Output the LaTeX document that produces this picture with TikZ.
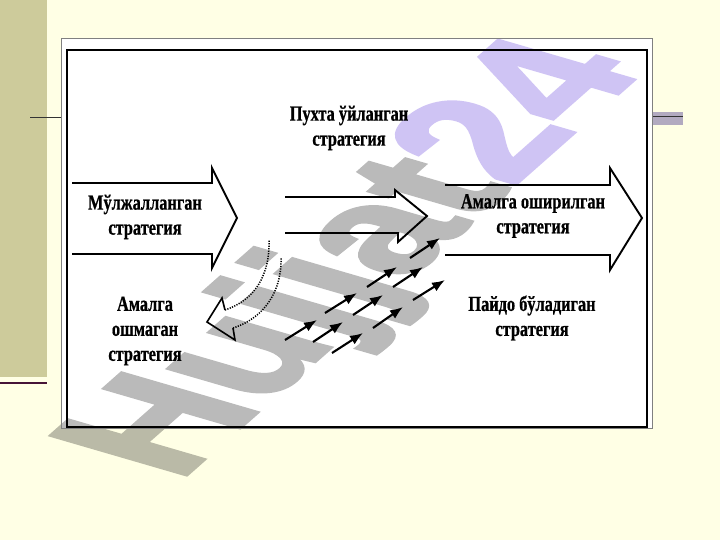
\documentclass[tikz,border=0pt]{standalone}
\usepackage{fontspec}
\setmainfont{Liberation Serif}
\newfontfamily\diagfont[FakeStretch=0.76,FakeBold=0.7]{Liberation Serif}
\newfontfamily\wmfont[FakeBold=2.5]{Liberation Sans}
\usetikzlibrary{arrows.meta}
\definecolor{bgyellow}{RGB}{255,255,229}
\definecolor{khaki}{RGB}{205,203,155}
\definecolor{darkmaroon}{RGB}{70,20,55}
\definecolor{barlav}{RGB}{178,170,192}
\definecolor{wmgray}{RGB}{0,0,0}
\definecolor{wmlav}{RGB}{81,37,218}
\begin{document}
\begin{tikzpicture}[x=1pt,y=-1pt,
  lbl/.style={font=\diagfont\bfseries\fontsize{21.5}{25}\selectfont, align=center, inner sep=0pt},
  bigarrow/.style={line width=1.9pt, line join=miter},
  smallarrow/.style={line width=2.1pt, -{Latex[length=13pt,width=10pt]}},
  dotline/.style={line width=1.5pt, dash pattern=on 1.2pt off 1.3pt},
  wmtext/.style={transform shape, anchor=base west, inner sep=0pt,
    font=\wmfont\bfseries\fontsize{100}{100}\selectfont}]
\useasboundingbox (0,0) rectangle (720,540);
\fill[bgyellow] (0,0) rectangle (720,540);
\fill[khaki] (0,0) rectangle (47,377);
\draw[darkmaroon, line width=2.5pt] (0,383) -- (47,383);
\draw[line width=0.8pt, black!80] (30,117) -- (62,117);
\fill[barlav] (652,112) rectangle (683,125);
\draw[line width=1pt, black!80] (652,117) -- (683,117);
\draw[fill=white, draw=black!50, line width=0.6pt] (61,38) rectangle (652,428);
% watermark (one text, drawn as a translucent group)
\begin{scope}[transparency group, opacity=0.27]
\begin{scope}[cm={1.20,1.06,-1.958,0.57,(178,482)}]
\node[wmtext] (wm) at (0,0) {\textcolor{wmgray}{Hujjat}\textcolor{wmlav}{ 24}};
\end{scope}
\end{scope}
% frame
\draw[draw=black!50, line width=0.6pt] (61,38) rectangle (652,428);
\draw[line width=1.8pt] (67,50) rectangle (647,427);
% big arrows
\draw[bigarrow] (72,183) -- (212,183) -- (212,168) -- (237,218) -- (212,268) -- (212,254) -- (72,254);
\draw[bigarrow] (285,197) -- (395,197) -- (395,190) -- (427,216) -- (398,242) -- (398,233) -- (285,233);
\draw[bigarrow] (445,185) -- (610,185) -- (610,168) -- (642,218) -- (610,270) -- (610,255) -- (445,255);
% return arrow
\draw[line width=1.6pt, line join=miter] (225,310) -- (222,298) -- (207,322) -- (235,340) -- (233,328);
\draw[dotline] (225,310) .. controls (255,300) and (270,275) .. (269,240);
\draw[dotline] (233,328) .. controls (265,318) and (282,290) .. (281,258);
% small arrows
\foreach \sx/\sy/\ex/\ey [count=\i] in {285/340/317/320, 325/313/357/293, 367/287/397/267, 410/258/440/238,
  313/342/343/322, 353/315/383/295, 393/287/423/267,
  332/353/363/333, 373/328/403/307, 413/300/445/280}{
  \coordinate (s\i) at (\sx,\sy);
  \coordinate (e\i) at (\ex,\ey);
  \draw[smallarrow] (s\i) -- (e\i);
}
% labels
\node[lbl] (planned) at (145,217) {Мўлжалланган\\стратегия};
\node[lbl] (deliberate) at (349,128) {Пухта ўйланган\\стратегия};
\node[lbl] (realized) at (533,216) {Амалга оширилган\\стратегия};
\node[lbl] (emergent) at (532,318) {Пайдо бўладиган\\стратегия};
\node[lbl] (unrealized) at (145,331) {Амалга\\ошмаган\\стратегия};
\end{tikzpicture}
\end{document}
